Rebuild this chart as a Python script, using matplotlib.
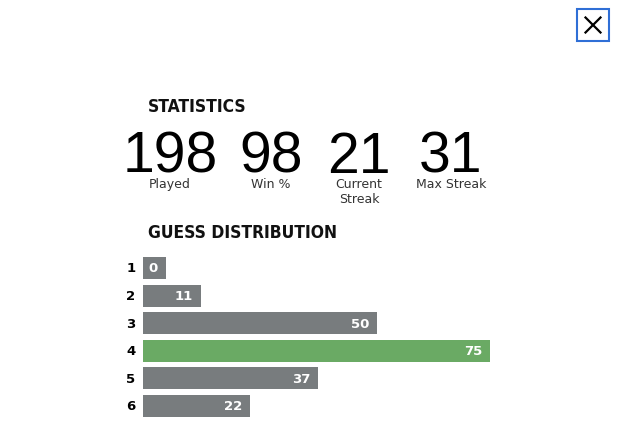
import matplotlib.pyplot as plt
from matplotlib.patches import Rectangle
from matplotlib.lines import Line2D
import matplotlib.transforms as mtransforms
import numpy as np

# stats row
stat_values = ["198", "98", "21", "31"]
stat_labels = ["Played", "Win %", "Current\nStreak", "Max Streak"]

# guess distribution
guesses = ["1", "2", "3", "4", "5", "6"]
counts = [0, 11, 50, 75, 37, 22]
highlight = 3  # index of the current guess row

W, H = 618, 439
GRAY = "#787c7e"
GREEN = "#6aaa64"

fig = plt.figure(figsize=(W / 100, H / 100), dpi=100)
fig.patch.set_facecolor("white")


def fx(x):
    return x / W


def fy(y):
    return 1 - y / H


head_font = dict(family="DejaVu Sans", weight="bold", stretch="condensed")

# headings
fig.text(fx(148), fy(112), "STATISTICS", fontsize=12.5, color="#111111", **head_font)
fig.text(fx(148), fy(238), "GUESS DISTRIBUTION", fontsize=12.5, color="#111111", **head_font)

# statistics
col_x = [170, 271, 359, 451]
for x, v, lab in zip(col_x, stat_values, stat_labels):
    fig.text(fx(x), fy(173), v, fontsize=41, ha="center", va="baseline",
             family="Liberation Sans", color="black")
    fig.text(fx(x), fy(178), lab, fontsize=9, ha="center", va="top",
             family="DejaVu Sans", color="#333333", linespacing=1.2)

# bars
px_per_unit = 339 / max(counts)
pad_u = 8 / px_per_unit
min_u = 15 / px_per_unit
ax = fig.add_axes([fx(143), fy(420.8), (490 - 143) / W, 165.6 / H])
y = np.arange(len(counts))
widths = np.maximum(counts, min_u)
colors = [GREEN if i == highlight else GRAY for i in range(len(counts))]
ax.barh(y, widths + pad_u, left=-pad_u, height=0.8, color=colors)
ax.set_xlim(-pad_u, max(counts))
ax.set_ylim(len(counts) - 0.5, -0.5)
ax.axis("off")

lab_tr = mtransforms.offset_copy(ax.transData, fig=fig, x=-8, y=0, units="dots")
for i, (w, c) in enumerate(zip(widths, counts)):
    ax.text(w, i, str(c), transform=lab_tr, ha="right", va="center",
            color="white", fontsize=9.5, fontweight="bold", family="DejaVu Sans")

row_tr = mtransforms.blended_transform_factory(fig.transFigure, ax.transData)
for i, g in enumerate(guesses):
    ax.text(fx(131), i, g, transform=row_tr, ha="center", va="center",
            color="black", fontsize=9.5, fontweight="bold", family="DejaVu Sans")

# close button
fig.add_artist(Rectangle((fx(577), fy(42)), 32 / W, 32 / H, transform=fig.transFigure,
                         fill=False, edgecolor="#2f6fd6", linewidth=1.5))
for (x0, y0, x1, y1) in [(585.5, 18.5, 600.5, 33.5), (585.5, 33.5, 600.5, 18.5)]:
    fig.add_artist(Line2D([fx(x0), fx(x1)], [fy(y0), fy(y1)], transform=fig.transFigure,
                          color="black", linewidth=1.6))

fig.savefig("out.png", dpi=100, facecolor="white")
